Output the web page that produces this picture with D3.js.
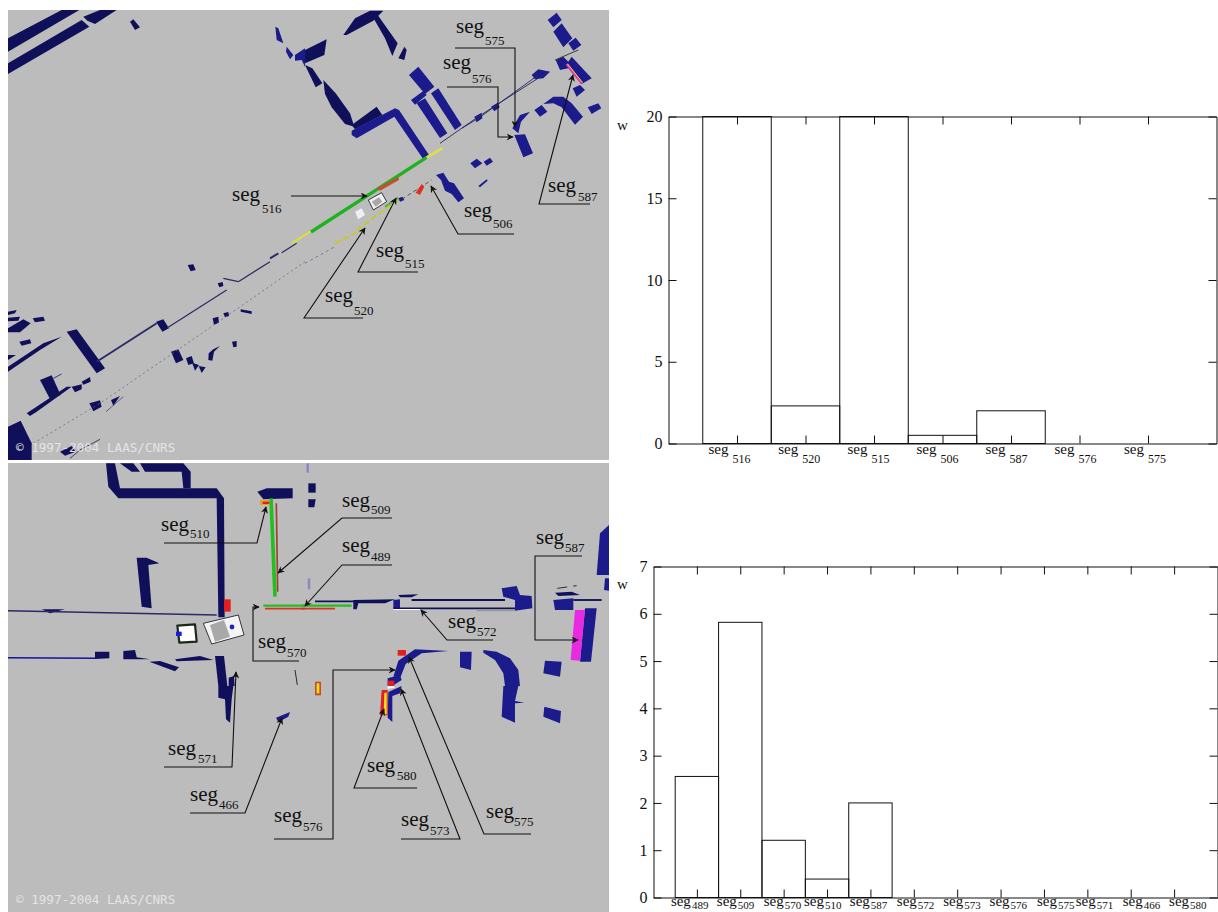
<!DOCTYPE html>
<html><head><meta charset="utf-8">
<script src="https://cdn.jsdelivr.net/npm/d3@7/dist/d3.min.js"></script>
<style>html,body{margin:0;padding:0;background:#fff}svg{display:block}text{font-family:"Liberation Serif","Times New Roman",serif;fill:#111}</style>
</head><body><svg id="c" width="1218" height="912"></svg>
<script>
// ---------- bar chart data ----------
const topCategories=["516","520","515","506","587","576","575"];
const topWeights=[20,2.3,20,0.5,2,0,0];
const topTicks=[0,5,10,15,20];
const topLabelShift=[-28.5,-27.3,-26.5,-26,-25.5,-25,-24];
const bottomCategories=["489","509","570","510","587","572","573","576","575","571","466","580"];
const bottomWeights=[2.56,5.82,1.21,0.39,2,0,0,0,0,0,0,0];
const bottomTicks=[0,1,2,3,4,5,6,7];
const bottomLabelShift=[-26,-23.4,-20,-23,-20.6,-17,-14,-11,-7,-11.6,-8,-5];

// ---------- map drawing data (map units: third of a pixel, per tile) ----------
const NAVY="#10105a",BLUE="#1b1b8c",LINE="#2a2a66";
const tileNW_navy=[
[[24,115],[185,30],[238,30],[24,155]],
[[24,190],[245,60],[268,80],[24,222]],
[[250,50],[300,30],[350,30],[285,72],[262,62]],
[[390,65],[400,58],[420,82],[405,90]]];
const tileNW_blue=[
[[826,80],[835,85],[850,130],[830,120]],
[[860,140],[880,165],[870,178],[858,155]],
[[885,165],[915,145],[915,200],[905,180],[885,182]]];
const tileNE_navy=[
[[115,105],[150,55],[195,32],[235,32],[205,62],[125,105]],
[[200,45],[218,45],[278,130],[262,168],[240,115]],
[[280,175],[298,140],[305,150],[298,180]],
[[0,150],[65,118],[58,165],[0,190]],
[[0,195],[22,205],[52,250],[32,262]],
[[55,240],[92,280],[135,340],[148,380],[120,372],[80,322],[60,282]],
[[140,375],[215,320],[232,345],[150,388]]];
const tileNE_blue=[
[[140,392],[270,325],[282,330],[372,465],[355,478],[268,350],[155,415],[140,405]],
[[312,225],[340,200],[388,260],[360,282]],
[[318,300],[355,273],[365,285],[330,314]],
[[335,310],[360,295],[427,400],[405,414]],
[[378,280],[400,265],[470,375],[450,390]],
[[680,225],[700,208],[735,215],[715,235],[690,238]],
[[558,320],[578,308],[584,322],[568,334]],
[[508,350],[530,338],[532,355],[515,367]],
[[728,60],[755,38],[770,60],[745,82]],
[[745,95],[770,70],[802,115],[775,142]],
[[790,130],[812,113],[829,135],[805,152]],
[[752,180],[775,170],[790,185],[800,170],[860,235],[830,252],[790,205],[765,210]],
[[803,265],[825,255],[840,270],[815,290]],
[[848,322],[880,310],[889,325],[860,342]],
[[688,330],[710,315],[727,335],[705,350]],
[[715,312],[745,290],[775,290],[800,310],[834,350],[810,374],[770,322],[745,310]],
[[622,385],[645,345],[675,335],[648,365],[640,400]],
[[628,405],[660,403],[684,460],[655,472]],
[[496,490],[515,476],[532,490],[510,505]],
[[536,485],[555,473],[564,485],[545,497]],
[[520,558],[545,538],[548,542],[525,562]],
[[393,525],[415,518],[432,545],[447,550],[477,595],[460,607],[440,582],[420,572],[408,540]],
[[280,595],[292,590],[298,600],[285,605]]];
const tileSW_navy=[
[[200,305],[230,298],[315,415],[290,430]],
[[468,275],[490,268],[507,295],[487,305]],
[[24,410],[130,340],[185,320],[120,360],[24,425]],
[[24,295],[70,268],[92,280],[60,307],[24,307]],
[[24,245],[50,240],[45,250],[24,255]],
[[24,263],[60,260],[55,272],[24,274]],
[[98,265],[130,260],[135,272],[105,277]],
[[58,335],[90,328],[94,340],[65,347]],
[[24,375],[48,375],[24,390]],
[[120,450],[155,436],[182,495],[150,507]],
[[80,550],[200,470],[215,470],[110,545],[90,558]],
[[215,470],[245,463],[245,478],[225,487]],
[[245,455],[270,441],[272,455],[250,464]],
[[268,520],[300,511],[305,530],[280,544]],
[[333,510],[360,498],[340,527]],
[[24,590],[62,572],[95,640],[95,690],[24,690]],
[[180,665],[215,648],[227,665],[195,677]],
[[513,365],[535,358],[550,390],[528,400]],
[[558,385],[575,378],[582,400],[565,405]],
[[576,398],[597,405],[585,422]],
[[596,408],[617,412],[605,429]],
[[626,370],[640,358],[660,348],[642,365],[637,392],[625,390]],
[[696,335],[710,333],[710,350],[700,352]],
[[563,105],[580,103],[587,120],[572,124]],
[[653,160],[668,156],[670,168],[658,172]],
[[638,265],[655,260],[657,278],[642,284]],
[[670,250],[685,246],[687,258],[675,262]],
[[722,238],[755,244],[755,252],[722,245]]];
const bNW_navy=[
[[318,10],[345,10],[360,85],[650,85],[672,115],[674,472],[655,472],[650,115],[355,115],[325,80]],
[[360,10],[400,10],[420,35],[395,35]],
[[420,10],[550,10],[572,35],[572,85],[550,85],[545,35],[435,35]],
[[772,95],[800,85],[878,85],[878,115],[790,118]],
[[410,293],[440,293],[478,310],[445,315],[455,445],[425,440]],
[[125,448],[195,448],[150,460]],
[[285,575],[328,575],[328,595],[285,597]],
[[370,573],[405,570],[410,592],[450,598],[370,598]],
[[448,605],[480,603],[537,622],[525,634]],
[[525,598],[600,588],[640,600],[530,604]],
[[645,588],[672,588],[682,678],[655,678]],
[[686,653],[702,648],[704,678],[686,678]]];
const bNE_navy=[
[[10,70],[32,70],[32,98],[10,98]],
[[10,118],[32,118],[28,142],[10,142]],
[[145,420],[270,418],[240,430],[160,430],[155,448],[145,448]],
[[280,405],[340,403],[320,412],[285,412]],
[[750,398],[800,395],[825,405],[760,408]]];
const bNE_blue=[
[[265,420],[285,418],[285,445],[265,445]],
[[590,385],[635,378],[645,405],[680,408],[682,445],[630,452],[630,420],[595,410]],
[[745,420],[805,415],[805,450],[750,450]],
[[840,445],[875,445],[858,605],[825,605]],
[[720,602],[770,605],[765,650],[715,640]],
[[885,220],[912,195],[912,345],[875,345]],
[[900,355],[912,355],[912,392],[897,390]],
[[265,650],[280,602],[330,568],[430,573],[350,580],[302,612],[287,650]],
[[465,575],[500,575],[498,630],[465,622]],
[[535,570],[575,575],[615,595],[640,630],[645,678],[600,678],[595,640],[570,600],[535,578]],
[[248,655],[285,645],[290,660],[262,678],[248,678]]];
const bSW_navy=[[[655,0],[700,0],[695,40],[690,110],[678,100],[675,40],[655,35]]];
const bSW_blue=[[[828,95],[870,78],[865,92],[835,108]]];
const bSE_blue=[
[[595,0],[640,0],[630,45],[658,50],[630,52],[630,110],[590,92]],
[[718,62],[768,75],[765,112],[715,92]],
[[250,18],[290,0],[285,22],[262,30],[262,108],[248,95]]];

// polygons of other colours: [tile, colour, outline]
const accentPolys=[
[[305,0],"#f0f0f0",[[190,600],[230,578],[245,605],[205,630]]],
[[305,0],"#a8a8a8",[[200,605],[222,592],[232,605],[212,620]]],
[[305,0],"#f0f0f0",[[150,635],[170,625],[180,645],[160,658]]],
[[305,0],"#e03020",[[332,578],[350,552],[358,560],[345,585]]],
[[305,0],"#c05030",[[215,565],[280,530],[282,540],[225,572]]],
[[0,460],"#e02020",[[672,418],[692,418],[692,455],[672,455]]],
[[0,460],"#f4f4f4",[[610,490],[715,465],[732,525],[635,552]]],
[[0,460],"#a8a8a8",[[630,495],[672,480],[690,530],[645,545]]],
[[0,460],"#e8a020",[[780,120],[808,120],[808,135],[780,135]]],
[[0,460],"#e02020",[[788,125],[808,125],[808,132],[788,132]]],
[[305,460],"#e02020",[[278,570],[303,570],[303,587],[278,587]]],
[[305,460],"#e02020",[[248,662],[268,662],[268,678],[248,678]]],
[[305,460],"#e82ae0",[[810,450],[840,450],[825,602],[797,600]]],
[[305,460],"#c85020",[[30,665],[48,665],[48,678],[30,678]]],
[[305,460],"#f0e020",[[35,670],[43,670],[43,678],[35,678]]],
[[305,686],"#c85020",[[30,0],[48,0],[48,28],[30,28]]],
[[305,686],"#f0e020",[[35,0],[43,0],[43,22],[35,22]]],
[[305,686],"#e02020",[[230,12],[248,12],[248,88],[225,88]]],
[[305,686],"#f0e020",[[238,20],[245,20],[245,85],[236,85]]],
[[305,686],"#ffffff",[[248,0],[268,0],[268,5],[248,8]]],
[[305,460],"#ffffff",[[265,447],[345,447],[345,450],[265,450]]]];

// thin map lines: [tile, colour, width, dash, outline]
const mapLines=[
[[0,230],LINE,3,null,[[290,395],[470,280]]],
[[0,230],LINE,2,null,[[500,295],[680,180]]],
[[0,230],LINE,2,null,[[715,155],[810,95]]],
[[0,230],LINE,2,null,[[670,145],[715,155]]],
[[0,230],LINE,3,null,[[810,85],[835,70]]],
[[0,230],LINE,2,null,[[845,68],[890,40]]],
[[0,230],"#666",1.2,"2,3",[[100,640],[300,520],[620,300],[915,95]]],
[[0,230],"#d8e040",3.5,null,[[875,40],[935,2]]],
[[0,230],LINE,1,null,[[318,545],[370,500]]],
[[0,230],LINE,1.4,null,[[210,685],[240,660],[300,628]]],
[[0,230],LINE,1.4,null,[[160,445],[185,432]]],
[[305,0],"#1fb21f",10,null,[[18,696],[365,472]]],
[[305,0],"#e0e040",4,null,[[365,472],[412,445]]],
[[305,0],LINE,1.5,null,[[405,430],[520,350],[730,215]]],
[[305,0],LINE,1.5,null,[[470,385],[520,355],[700,225]]],
[[305,0],"#e040b0",4,null,[[785,192],[830,250]]],
[[305,0],"#f0e040",1.5,null,[[788,192],[833,248]]],
[[305,0],"#c8c820",3,"6,3",[[155,690],[285,595]]],
[[305,0],"#333",1.2,"4,3",[[290,598],[380,540]]],
[[305,0],"#40b040",3,null,[[240,620],[280,593]]],
[[305,0],"#333",1.5,null,[[750,180],[820,150]]],
[[305,230],"#c8c820",3,"6,3",[[90,40],[160,5]]],
[[305,230],"#704090",1,"3,3",[[0,100],[90,50]]],
[[0,460],LINE,2.4,null,[[24,452],[650,465]]],
[[0,460],"#1414a0",2.5,null,[[24,593],[285,595]]],
[[0,460],"#20c020",11,null,[[813,115],[825,410]]],
[[0,460],"#a04030",5,null,[[829,130],[833,395]]],
[[0,460],"#20c020",7,null,[[790,437],[915,437]]],
[[0,460],"#e03020",5,null,[[795,446],[915,446]]],
[[0,460],"#222",1.5,null,[[885,630],[892,675]]],
[[305,460],"#20c020",7,null,[[-10,437],[140,437]]],
[[305,460],"#e03020",5,null,[[-10,446],[90,446]]],
[[305,460],"#8888c8",4,null,[[8,10],[8,38]]],
[[305,460],"#8888c8",4,null,[[12,355],[12,388]]],
[[305,460],NAVY,3,null,[[30,424],[150,424]]],
[[305,460],NAVY,3,null,[[320,420],[600,420]]],
[[305,460],NAVY,3,null,[[265,445],[630,445]]],
[[305,460],"#999",3,null,[[515,451],[630,451]]],
[[305,460],"#222",1.5,"10,6",[[757,385],[815,377]]],
[[305,460],NAVY,3,null,[[805,420],[890,420]]]];
const robotBodies=[
[[0,460],[[532,497],[585,493],[590,545],[538,548]]]];
const robotOutlines=[
[[0,460],[[610,490],[715,465],[732,525],[635,552]]],
[[305,0],[[190,600],[230,578],[245,605],[205,630]]]];

// ---------- annotations ----------
const segLabels=[
["516",232,201,262,213],["575",456,33,485,45],["576",443,69,472,83],["587",548,192,578,201],
["506",464,217,493,228],["515",376,257,405,268],["520",325,302,354,315],
["510",161,531,190,538],["509",342,507,371,514],["489",342,552,371,561],["570",258,648,287,657],
["572",448,628,477,636],["587",536,544,565,552],["576",274,822,303,831],["571",168,755,198,763],
["466",190,801,219,809],["580",367,772,397,780],["573",401,826,430,835],["575",486,818,514,826]];
const leaders=[
[[291,196],[367,196]],
[[455,48],[515,48],[515,127]],
[[447,87],[498,87],[498,137],[513,137]],
[[590,204],[539,204],[573,75]],
[[514,234],[458,234],[431,186]],
[[418,272],[358,272],[396,198]],
[[363,318],[304,318],[365,228]],
[[164,543],[257,543],[266,507]],
[[392,518],[342,518],[278,573]],
[[392,565],[342,565],[305,606]],
[[299,661],[253,661],[253,607],[259,607]],
[[493,640],[447,640],[421,610]],
[[582,556],[535,556],[535,640],[578,640]],
[[274,839],[333,839],[333,670],[395,670]],
[[164,767],[232,767],[236,672]],
[[190,813],[245,813],[282,718]],
[[417,788],[354,788],[384,709]],
[[401,839],[460,839],[401,689]],
[[531,834],[484,834],[409,657]]];
const copyrightText="\u00a9 1997-2004 LAAS/CNRS";

// ---------- drawing ----------
const svg=d3.select("#c");
const defs=svg.append("defs");
defs.append("marker").attr("id","arr").attr("viewBox","0 0 10 10").attr("refX",9).attr("refY",5)
 .attr("markerUnits","userSpaceOnUse").attr("markerWidth",9).attr("markerHeight",7).attr("orient","auto")
 .append("path").attr("d","M0,0L10,5L0,10L3,5z").attr("fill","#111");
const panels=[{id:"pa",x:8,y:10,w:601,h:450,copyY:452},{id:"pb",x:8,y:463,w:601,h:449,copyY:904}];
panels.forEach(p=>{
 defs.append("clipPath").attr("id",p.id).append("rect").attr("x",p.x).attr("y",p.y).attr("width",p.w).attr("height",p.h);
});
const u=d3.scaleLinear().domain([0,3]).range([0,1]);
const toPath=(t,pts)=>d3.line().x(d=>t[0]+u(d[0])).y(d=>t[1]+u(d[1]))(pts);
const layers=[
 {panel:0,tile:[0,0],color:NAVY,polys:tileNW_navy},{panel:0,tile:[0,0],color:BLUE,polys:tileNW_blue},
 {panel:0,tile:[305,0],color:NAVY,polys:tileNE_navy},{panel:0,tile:[305,0],color:BLUE,polys:tileNE_blue},
 {panel:0,tile:[0,230],color:NAVY,polys:tileSW_navy},
 {panel:1,tile:[0,460],color:NAVY,polys:bNW_navy},{panel:1,tile:[305,460],color:NAVY,polys:bNE_navy},
 {panel:1,tile:[305,460],color:BLUE,polys:bNE_blue},{panel:1,tile:[0,686],color:NAVY,polys:bSW_navy},
 {panel:1,tile:[0,686],color:BLUE,polys:bSW_blue},{panel:1,tile:[305,686],color:BLUE,polys:bSE_blue}];
const pg=panels.map(p=>{
 const g=svg.append("g").attr("clip-path",`url(#${p.id})`);
 g.append("rect").attr("x",p.x).attr("y",p.y).attr("width",p.w).attr("height",p.h).attr("fill","#bcbcbc");
 return g;
});
layers.forEach(l=>pg[l.panel].selectAll(null).data(l.polys).join("path").attr("d",d=>toPath(l.tile,d)+"Z").attr("fill",l.color));
const panelOf=t=>t[1]>=460?1:0;
mapLines.forEach(l=>pg[panelOf(l[0])].append("path").attr("d",toPath(l[0],l[4])).attr("fill","none")
 .attr("stroke",l[1]).attr("stroke-width",l[2]/ (l[2]>4?3:1.6)).attr("stroke-dasharray",l[3]));
accentPolys.forEach(a=>pg[panelOf(a[0])].append("path").attr("d",toPath(a[0],a[2])+"Z").attr("fill",a[1]));
robotOutlines.forEach(r=>pg[panelOf(r[0])].append("path").attr("d",toPath(r[0],r[1])+"Z").attr("fill","none").attr("stroke","#223").attr("stroke-width",.9));
robotBodies.forEach(r=>{
 pg[panelOf(r[0])].append("path").attr("d",toPath(r[0],r[1])+"Z").attr("fill","#fff").attr("stroke","#1a2a1a").attr("stroke-width",2.2).attr("stroke-linejoin","round");
});
pg[1].append("path").attr("d",toPath([0,460],[[528,515],[545,515],[545,528],[528,528]])+"Z").attr("fill","#1a1ae0");
pg[1].append("circle").attr("cx",232).attr("cy",627).attr("r",2.4).attr("fill","#2020c0");
panels.forEach((p,i)=>pg[i].append("text").attr("x",16).attr("y",p.copyY)
 .style("font-family","'DejaVu Sans Mono',monospace").style("font-size","12.6px").style("fill","#e4e4e4").text(copyrightText));

// leaders and labels
svg.append("g").selectAll("path").data(leaders).join("path")
 .attr("d",d3.line()).attr("fill","none").attr("stroke","#111").attr("stroke-width",1.1).attr("marker-end","url(#arr)");
const lab=svg.append("g").selectAll("g").data(segLabels).join("g");
lab.append("text").attr("x",d=>d[1]).attr("y",d=>d[2]).style("font-size","21px").text("seg");
lab.append("text").attr("x",d=>d[3]).attr("y",d=>d[4]).style("font-size","13px").text(d=>d[0]);

// bar charts
function barChart(o){
 const x=d3.scaleLinear().domain([-1,o.xMax]).range([o.l,o.r]);
 const y=d3.scaleLinear().domain([0,o.yMax]).range([o.b,o.t]);
 const g=svg.append("g");
 const idx=o.cats.map((_,i)=>i);
 g.selectAll("rect").data(o.vals).join("rect")
  .attr("x",(d,i)=>x(i-.5)).attr("width",(d,i)=>x(i+.5)-x(i-.5))
  .attr("y",d=>y(d)).attr("height",d=>y(0)-y(d)).attr("fill","none").attr("stroke","#111").attr("stroke-width",1);
 const style=a=>{a.select(".domain").attr("stroke","#111");a.selectAll("line").attr("stroke","#111");a.selectAll("text").style("font-size",o.tickFont).style("font-family",'"Liberation Serif",serif').attr("fill","#111");};
 g.append("g").attr("transform",`translate(${o.l},0)`).call(d3.axisLeft(y).tickValues(o.ticks).tickFormat(d3.format("d")).tickSize(-8).tickSizeOuter(0).tickPadding(6)).call(style);
 g.append("g").attr("transform",`translate(${o.r},0)`).call(d3.axisRight(y).tickValues(o.ticks).tickFormat("").tickSize(-8).tickSizeOuter(0)).call(style);
 g.append("g").attr("transform",`translate(0,${o.b})`).call(d3.axisBottom(x).tickValues(idx).tickFormat("").tickSize(-8).tickSizeOuter(0)).call(style);
 g.append("g").attr("transform",`translate(0,${o.t})`).call(d3.axisTop(x).tickValues(idx).tickFormat("").tickSize(-8).tickSizeOuter(0)).call(style);
 g.append("text").attr("x",o.wx).attr("y",o.wy).style("font-size","15px").text("w");
 const cl=g.append("g").selectAll("g").data(o.cats).join("g");
 cl.append("text").attr("x",(d,i)=>x(i)+o.shift[i]).attr("y",o.b+o.segDy).style("font-size","15px").text("seg");
 cl.append("text").attr("x",(d,i)=>x(i)+o.shift[i]+o.subDx).attr("y",o.b+o.subDy).style("font-size",o.subFont).text(d=>d);
}
barChart({cats:topCategories,vals:topWeights,ticks:topTicks,shift:topLabelShift,xMax:7,yMax:20,l:668.5,r:1216.5,t:116.5,b:443.5,wx:617,wy:130,segDy:10,subDy:19,subDx:24,subFont:"12px",tickFont:"16px"});
barChart({cats:bottomCategories,vals:bottomWeights,ticks:bottomTicks,shift:bottomLabelShift,xMax:12,yMax:7,l:653.5,r:1217.5,t:566.5,b:897.5,wx:617,wy:589,segDy:8,subDy:11.5,subDx:21,subFont:"11px",tickFont:"16px"});
</script></body></html>
